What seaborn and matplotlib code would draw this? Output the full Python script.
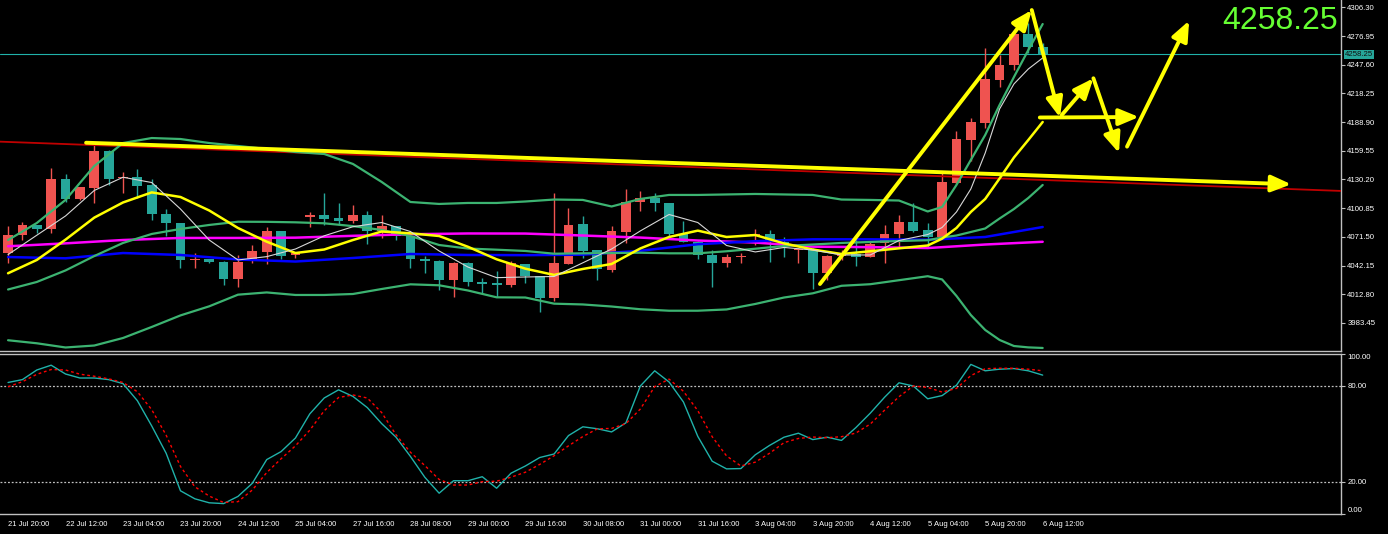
import numpy as np
import pandas as pd
import matplotlib
matplotlib.use("Agg")
import matplotlib.pyplot as plt
import matplotlib.transforms as mtransforms
import seaborn as sns

# H4 candles
opens = [4054.7, 4073.5, 4083.7, 4079.6, 4130.4, 4110.0, 4121.8, 4159.4, 4131.4, 4133.1,
         4124.6, 4094.9, 4085.4, 4047.9, 4048.6, 4046.2, 4028.2, 4047.2, 4056.4, 4077.5,
         4053.0, 4091.6, 4093.6, 4090.5, 4087.8, 4093.9, 4077.9, 4082.7, 4072.4, 4048.9,
         4047.2, 4027.4, 4045.1, 4025.7, 4024.0, 4022.3, 4043.5, 4031.8, 4008.7, 4043.8,
         4084.7, 4058.1, 4037.7, 4076.8, 4107.5, 4111.0, 4105.9, 4074.5, 4066.6, 4053.0,
         4045.1, 4051.0, 4072.4, 4074.5, 4066.3, 4058.0, 4058.1, 4034.3, 4052.0, 4054.0,
         4051.3, 4065.0, 4074.2, 4086.7, 4078.6, 4071.1, 4127.0, 4170.6, 4188.3, 4231.9,
         4247.3, 4278.7, 4266.0]
highs = [4082.7, 4086.5, 4083.9, 4141.7, 4135.8, 4123.0, 4165.5, 4160.0, 4138.2, 4140.6,
         4130.4, 4099.7, 4086.0, 4054.7, 4049.0, 4046.5, 4053.0, 4063.2, 4082.0, 4078.0,
         4056.4, 4097.3, 4116.1, 4105.9, 4104.1, 4098.0, 4093.9, 4083.0, 4072.5, 4052.0,
         4047.5, 4045.5, 4045.5, 4029.2, 4036.9, 4046.9, 4044.0, 4032.0, 4116.1, 4100.8,
         4092.9, 4058.5, 4082.7, 4120.2, 4118.7, 4116.7, 4106.0, 4088.1, 4067.0, 4058.1,
         4054.0, 4054.7, 4079.3, 4078.6, 4071.7, 4060.2, 4060.2, 4052.5, 4058.0, 4069.0,
         4066.6, 4083.7, 4093.9, 4105.9, 4086.0, 4136.5, 4179.8, 4192.8, 4264.4, 4257.5,
         4279.0, 4289.9, 4269.5]
lows = [4044.5, 4068.4, 4075.8, 4075.8, 4107.5, 4109.0, 4106.5, 4124.6, 4116.1, 4111.0,
        4088.8, 4072.4, 4039.4, 4039.4, 4045.0, 4022.0, 4020.6, 4044.5, 4043.8, 4048.6,
        4050.2, 4082.0, 4083.7, 4083.7, 4085.4, 4064.0, 4070.1, 4068.4, 4039.4, 4034.3,
        4017.2, 4010.4, 4021.3, 4013.8, 4010.4, 4020.0, 4024.0, 3995.0, 4006.3, 4043.5,
        4049.6, 4027.4, 4035.9, 4065.0, 4098.3, 4098.3, 4072.4, 4066.0, 4048.9, 4020.0,
        4040.4, 4044.5, 4063.2, 4046.2, 4051.3, 4044.5, 4017.9, 4027.4, 4048.0, 4041.8,
        4051.0, 4044.5, 4061.5, 4076.5, 4061.5, 4070.0, 4126.0, 4149.4, 4182.6, 4224.5,
        4242.2, 4259.3, 4258.0]
closes = [4073.5, 4083.7, 4079.6, 4130.4, 4110.0, 4122.2, 4159.4, 4130.7, 4133.1, 4123.9,
          4094.6, 4085.4, 4047.9, 4048.9, 4045.5, 4028.2, 4046.2, 4057.1, 4077.5, 4052.0,
          4054.7, 4093.6, 4089.5, 4088.1, 4093.9, 4077.9, 4082.7, 4072.4, 4048.6, 4046.6,
          4027.4, 4045.1, 4025.7, 4023.6, 4022.3, 4044.5, 4031.8, 4008.7, 4044.5, 4083.7,
          4057.4, 4038.4, 4077.5, 4107.5, 4111.0, 4105.9, 4074.5, 4066.6, 4053.0, 4045.1,
          4050.6, 4052.0, 4074.2, 4068.4, 4064.3, 4059.5, 4034.3, 4052.0, 4055.0, 4050.6,
          4064.3, 4074.5, 4086.7, 4077.9, 4071.1, 4128.0, 4171.3, 4188.7, 4232.7, 4247.3,
          4278.7, 4266.0, 4258.25]

time_labels = ["21 Jul 20:00", "22 Jul 12:00", "23 Jul 04:00", "23 Jul 20:00", "24 Jul 12:00",
               "25 Jul 04:00", "27 Jul 16:00", "28 Jul 08:00", "29 Jul 00:00", "29 Jul 16:00",
               "30 Jul 08:00", "31 Jul 00:00", "31 Jul 16:00", "3 Aug 04:00", "3 Aug 20:00",
               "4 Aug 12:00", "5 Aug 04:00", "5 Aug 20:00", "6 Aug 12:00"]
label_bars = list(range(0, 73, 4))

# indicator lines
band_bars = list(range(0, 65, 2)) + list(range(65, 73))
bb_upper = [4068.3, 4085.7, 4109.3, 4144.0, 4167.5, 4172.6, 4171.6, 4167.5, 4164.5, 4161.4,
            4158.3, 4156.3, 4146.1, 4127.7, 4107.2, 4105.2, 4106.2, 4106.2, 4107.7, 4109.7,
            4109.3, 4102.6, 4110.3, 4114.4, 4114.4, 4114.9, 4115.4, 4114.9, 4114.4, 4109.7,
            4109.3, 4108.7, 4097.5, 4102.1, 4124.6, 4150.2, 4175.7, 4206.4, 4235.0, 4262.6,
            4289.2]
bb_mid = [4017.7, 4025.4, 4037.2, 4051.9, 4065.3, 4074.5, 4079.6, 4083.7, 4087.0, 4086.9,
          4086.4, 4085.4, 4082.5, 4078.6, 4072.4, 4063.2, 4059.6, 4058.4, 4057.1, 4054.3,
          4054.7, 4055.0, 4055.3, 4054.7, 4054.7, 4056.8, 4059.4, 4062.2, 4063.7, 4065.3,
          4066.3, 4067.3, 4068.1, 4070.9, 4072.9, 4076.5, 4080.1, 4090.3, 4100.0, 4111.3,
          4124.6]
bb_lower = [3965.8, 3962.7, 3958.4, 3960.4, 3968.1, 3979.4, 3991.2, 4000.5, 4012.4, 4014.7,
            4012.1, 4012.1, 4013.1, 4018.2, 4023.0, 4022.0, 4016.7, 4009.7, 4009.5, 4003.2,
            4002.4, 4000.3, 3997.5, 3996.0, 3996.0, 3997.3, 4002.9, 4009.5, 4013.8, 4021.5,
            4023.1, 4027.2, 4031.3, 4028.0, 4011.1, 3991.6, 3976.3, 3966.1, 3959.9, 3958.5,
            3957.9]
ma_fast = [4053.4, 4073.2, 4092.9, 4119.0, 4132.5, 4127.1, 4100.0, 4068.3, 4047.9, 4051.3,
           4059.1, 4072.6, 4081.9, 4086.2, 4077.0, 4057.1, 4040.7, 4029.8, 4030.5, 4031.0,
           4045.0, 4059.1, 4077.6, 4094.4, 4086.2, 4062.7, 4056.1, 4060.7, 4058.1, 4053.0,
           4053.0, 4067.8, 4073.9, 4081.1, 4097.0, 4120.5, 4157.3, 4202.3, 4227.9, 4243.2,
           4254.5]
ma_yellow = [4034.3, 4047.9, 4068.7, 4091.2, 4106.7, 4117.0, 4112.3, 4098.5, 4080.6, 4066.6,
             4055.0, 4058.6, 4068.3, 4077.0, 4075.2, 4072.4, 4061.4, 4048.6, 4039.0, 4032.6,
             4038.7, 4043.8, 4059.7, 4071.4, 4077.9, 4071.4, 4073.4, 4064.8, 4058.6, 4054.0,
             4056.8, 4059.8, 4062.7, 4069.7, 4080.6, 4097.0, 4110.3, 4131.2, 4152.7, 4170.6,
             4189.0]
slow_bars = list(range(0, 73, 4))
ma_blue = [4050.9, 4049.6, 4055.0, 4053.0, 4048.4, 4046.3, 4049.9, 4054.0, 4053.0, 4052.8,
           4053.3, 4057.3, 4064.0, 4067.1, 4069.0, 4069.0, 4068.6, 4071.4, 4081.6]
ma_magenta = [4061.9, 4064.9, 4068.3, 4070.4, 4070.4, 4070.7, 4072.6, 4074.2, 4075.0, 4074.9,
              4072.9, 4070.8, 4067.8, 4065.7, 4061.5, 4061.0, 4060.1, 4063.7, 4066.5]

stoch_main = [82.2, 84, 90, 93, 87.5, 85, 85, 84, 81.5, 70.8, 55, 38, 14.5, 9.5, 7, 6.5, 11,
              19.2, 34, 39, 47.5, 62.6, 72.5, 77.6, 73.5, 66.5, 56.5, 48, 36, 23, 13, 20.8,
              20.8, 23.3, 16.1, 25.5, 30, 35.3, 37.5, 49, 54.5, 53.3, 51.3, 57, 80, 89.5,
              82.5, 70, 48.5, 33, 28.2, 28.4, 37, 42.9, 48, 50.5, 46.5, 48, 46, 54, 63, 73,
              82, 80, 72, 74, 80.5, 93.5, 89.5, 90.5, 90.9, 89.5, 86.8]
stoch_signal = [79.5, 82.7, 87.3, 90.3, 90, 87.4, 86.1, 84.5, 82.2, 76.4, 65.2, 49.3, 29.7,
                17, 11.2, 7.2, 7.7, 15, 25.9, 34.5, 42.6, 52.4, 64.5, 72.8, 74.4, 72.5, 63.4,
                49.5, 38.6, 30.3, 21.6, 18.1, 18.1, 20.2, 20.5, 23, 26.1, 31, 36.4, 42.6, 48.4,
                53.2, 53.5, 56.5, 65.6, 79.6, 84.3, 76.7, 64.6, 48.3, 36.3, 30, 32.4, 38, 44.6,
                47.2, 48.1, 47.7, 48.3, 50.6, 56.2, 64.9, 73.3, 80, 79.1, 76.2, 78.5, 86.5,
                90.8, 91.1, 91.1, 90.5, 89.5]

price_ticks = [4306.30, 4276.95, 4247.60, 4218.25, 4188.90, 4159.55, 4130.20, 4100.85,
               4071.50, 4042.15, 4012.80, 3983.45]
osc_ticks = [100, 80, 20, 0]
last_price = 4258.25

# hand drawn objects (bar index, price)
red_trend_x = [-0.56, 92.76]
red_trend_y = [4168.9, 4118.5]
arrows = [
    ((5.43, 4167.8), (89.3, 4125.3)),
    ((56.5, 4023.3), (71.24, 4303.5)),
    ((71.24, 4303.5), (73.2, 4193.6)),
    ((73.33, 4196.2), (75.53, 4233.7)),
    ((75.53, 4233.7), (77.31, 4157.3)),
    ((71.8, 4193.6), (78.7, 4194.1)),
    ((77.87, 4163.8), (82.19, 4292.6)),
]

UP = "#ef5350"
DOWN = "#26a69a"
GRID = "#c0c0c0"

sns.set_style("dark", {"axes.facecolor": "black", "figure.facecolor": "black"})
plt.rcParams["font.family"] = ["Liberation Sans", "DejaVu Sans"]

fig = plt.figure(figsize=(13.88, 5.34), dpi=100, facecolor="black")
ax = fig.add_axes([0, 1 - 351 / 534, 1341 / 1388, 351 / 534])
ax2 = fig.add_axes([0, 1 - 514 / 534, 1341 / 1388, 160 / 534])

# candles
idx = np.arange(len(closes))
o = np.array(opens)
c = np.array(closes)
colors = np.where(c >= o, UP, DOWN)
ax.vlines(idx, lows, highs, colors=colors, lw=1, zorder=2)
body = np.maximum(np.abs(c - o), 0.8)
ax.bar(idx, body, bottom=np.minimum(o, c), width=0.68, color=colors, linewidth=0, zorder=3)

# indicators
bands = pd.DataFrame({"bar": band_bars, "upper": bb_upper, "mid": bb_mid, "lower": bb_lower,
                      "fast": ma_fast, "yellow": ma_yellow})
slow = pd.DataFrame({"bar": slow_bars, "blue": ma_blue, "magenta": ma_magenta})
for col, colr, lw in [("upper", "#3cb371", 1.6), ("mid", "#3cb371", 1.6), ("lower", "#3cb371", 1.6),
                      ("yellow", "#ffff00", 1.8), ("fast", "#d8d8d8", 0.8)]:
    sns.lineplot(data=bands, x="bar", y=col, ax=ax, color=colr, lw=lw, zorder=5, errorbar=None)
for col, colr in [("magenta", "#ff00ff"), ("blue", "#0000ff")]:
    sns.lineplot(data=slow, x="bar", y=col, ax=ax, color=colr, lw=1.8, zorder=4, errorbar=None)

ax.axhline(last_price, color="#20b2aa", lw=0.8, zorder=1)
ax.plot(red_trend_x, red_trend_y, color="#c00000", lw=1.3, zorder=4)
for start, end in arrows:
    ax.annotate("", xy=end, xytext=start, annotation_clip=False, zorder=8,
                arrowprops=dict(arrowstyle="-|>,head_length=1.2,head_width=0.5",
                                color="#ffff00", lw=2.8, shrinkA=0, shrinkB=0))

# stochastic
stoch = pd.DataFrame({"bar": idx, "main": stoch_main, "signal": stoch_signal})
for lvl in (80, 20):
    ax2.axhline(lvl, color=GRID, lw=0.9, ls=(0, (1.5, 1.5)), zorder=1)
sns.lineplot(data=stoch, x="bar", y="main", ax=ax2, color="#20b2aa", lw=1.0, errorbar=None)
sns.lineplot(data=stoch, x="bar", y="signal", ax=ax2, color="#ff0000", lw=1.0,
             linestyle=(0, (2, 2)), errorbar=None)

for a in (ax, ax2):
    a.set_facecolor("black")
    a.grid(False)
    a.set_xlim(-0.56, 92.76)
    a.set_xlabel("")
    a.set_ylabel("")
    a.spines["top"].set_visible(a is ax2)
    a.spines["left"].set_visible(False)
    for s in ("right", "bottom", "top"):
        a.spines[s].set_color(GRID)
        a.spines[s].set_linewidth(1)
    a.yaxis.tick_right()
    a.tick_params(axis="y", colors=GRID, labelcolor="white", labelsize=5.6, length=3,
                  width=0.8, pad=1.5)

ax.set_ylim(3954.8, 4313.77)
ax.set_yticks(price_ticks)
ax.set_yticklabels([f"{v:.2f}" for v in price_ticks])
ax.tick_params(axis="x", bottom=False, labelbottom=False)

ax2.set_ylim(0, 100)
ax2.set_yticks(osc_ticks)
ax2.set_yticklabels([f"{v:.2f}" for v in osc_ticks])
for lab in ax2.get_yticklabels():
    if lab.get_text() == "100.00":
        lab.set_va("top")
    elif lab.get_text() == "0.00":
        lab.set_va("bottom")
ax2.set_xticks(label_bars)
ax2.set_xticklabels(time_labels, ha="left")
ax2.tick_params(axis="x", colors=GRID, labelcolor="white", labelsize=5.5, length=3,
                width=0.8, pad=2)

# last price tag and big quote
tag_tr = mtransforms.blended_transform_factory(ax.transAxes, ax.transData)
ax.text(1.003, last_price, f"{last_price:.2f}", transform=tag_tr, ha="left", va="center",
        fontsize=5.6, color="#101010", zorder=10,
        bbox=dict(facecolor="#26a69a", edgecolor="none", pad=0.8))
fig.text(1338 / 1388, 1 - 21 / 534, f"{last_price:.2f}", color="#66ff33", fontsize=23,
         ha="right", va="center")

fig.savefig("out.png", dpi=100, facecolor="black")
